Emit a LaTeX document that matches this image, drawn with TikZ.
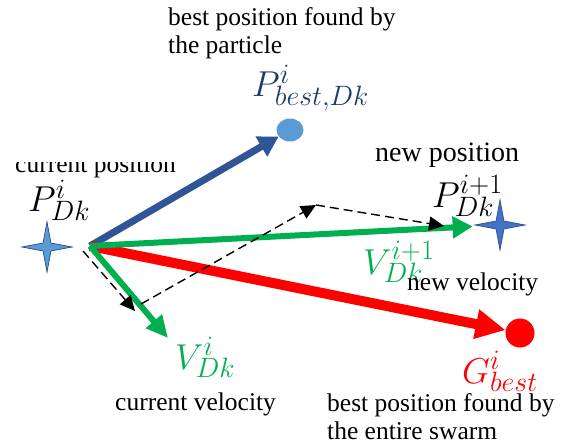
\RequirePackage{fix-cm}
\documentclass[tikz,border=0pt]{standalone}
\usepackage{fontspec}
\setmainfont{Liberation Serif}
\usetikzlibrary{arrows.meta, shapes.geometric, positioning}
\DeclareMathSizes{36}{36}{28}{20}

\definecolor{psoblue}{RGB}{47,85,151}
\definecolor{psonavy}{RGB}{31,56,110}
\definecolor{psolight}{RGB}{91,155,213}
\definecolor{psostar}{RGB}{68,114,196}
\definecolor{psogreen}{RGB}{0,176,80}
\definecolor{psored}{RGB}{255,0,0}

\tikzset{
  txt/.style={inner sep=0pt, font=\fontsize{25.5}{28.5}\selectfont, align=left},
  sym/.style={inner sep=0pt, font=\fontsize{36}{40}\selectfont},
  spark/.style={star, star points=4, star point ratio=4.5, minimum size=50pt,
    inner sep=0pt, draw=psoblue, line width=0.8pt},
  dashvec/.style={black, line width=1.4pt, dash pattern=on 9pt off 5pt,
    -{Triangle[length=15pt,width=14pt]}}
}

\begin{document}
\begin{tikzpicture}[x=1pt, y=-1pt]
\useasboundingbox (0,0) rectangle (567,446);

% positions
\coordinate (o) at (90,246);
\coordinate (vc) at (168,338);
\node[spark, fill=psolight] (xc) at (47,247) {};
\node[spark, fill=psostar] (xn) at (500,225) {};
\node[ellipse, fill=psolight, minimum width=27pt, minimum height=23pt, inner sep=0pt] (pb) at (290,130) {};
\node[circle, fill=psored, minimum size=29pt, inner sep=0pt] (gb) at (520,333) {};

% velocities
\draw[psoblue, line width=7pt, -{Triangle[length=20pt,width=22pt]}] (o) -- (pb);
\draw[psored, line width=10pt, -{Triangle[length=30pt,width=28pt]}] (o) -- (gb);
\draw[psogreen, line width=6pt, -{Triangle[length=20pt,width=21pt]}, shorten >=6pt] (o) -- (xn);
\draw[psogreen, line width=6pt, -{Triangle[length=22pt,width=20pt]}] (o) -- (vc);

% components
\coordinate (d0) at (83,251);
\coordinate (d1) at (135,311);
\coordinate (d2) at (141,304);
\coordinate (d3) at (316,205);
\coordinate (d4) at (444,226);
\draw[dashvec] (d0) -- (d1);
\draw[dashvec] (d2) -- (d3);
\draw[dashvec] (d3) -- (d4);

% symbols
\node[sym, anchor=base west] (lxc) at (28,212) {$P^{i}_{Dk}$};
\node[sym, anchor=base west, text=psonavy] (lpb) at (252,97) {$P^{i}_{best,Dk}$};
\node[sym, anchor=base west] (lxn) at (432,208) {$P^{i+1}_{Dk}$};
\node[sym, anchor=base west, text=psogreen] (lvn) at (363,274) {$V^{i+1}_{Dk}$};
\node[sym, anchor=base west, text=psogreen] (lvc) at (175,369) {$V^{i}_{Dk}$};
\node[sym, anchor=base west, text=psored] (lgb) at (462,383) {$G^{i}_{best}$};

% captions
\begin{scope}
\clip (0,163) rectangle (200,190);
\node[txt, anchor=base west] (tcp) at (15,173) {current position};
\end{scope}
\node[txt, anchor=base west, font=\fontsize{28}{31}\selectfont] (tnp) at (375,162) {new position};
\node[txt, anchor=base west] (tnv) at (407,290) {new velocity};
\node[txt, anchor=base west] (tcv) at (115,410) {current velocity};
\node[txt, anchor=north west] (tpb) at (168,7) {best position found by\\the particle};
\node[txt, anchor=north west] (tgb) at (327,393) {best position found by\\the entire swarm};
\end{tikzpicture}
\end{document}
